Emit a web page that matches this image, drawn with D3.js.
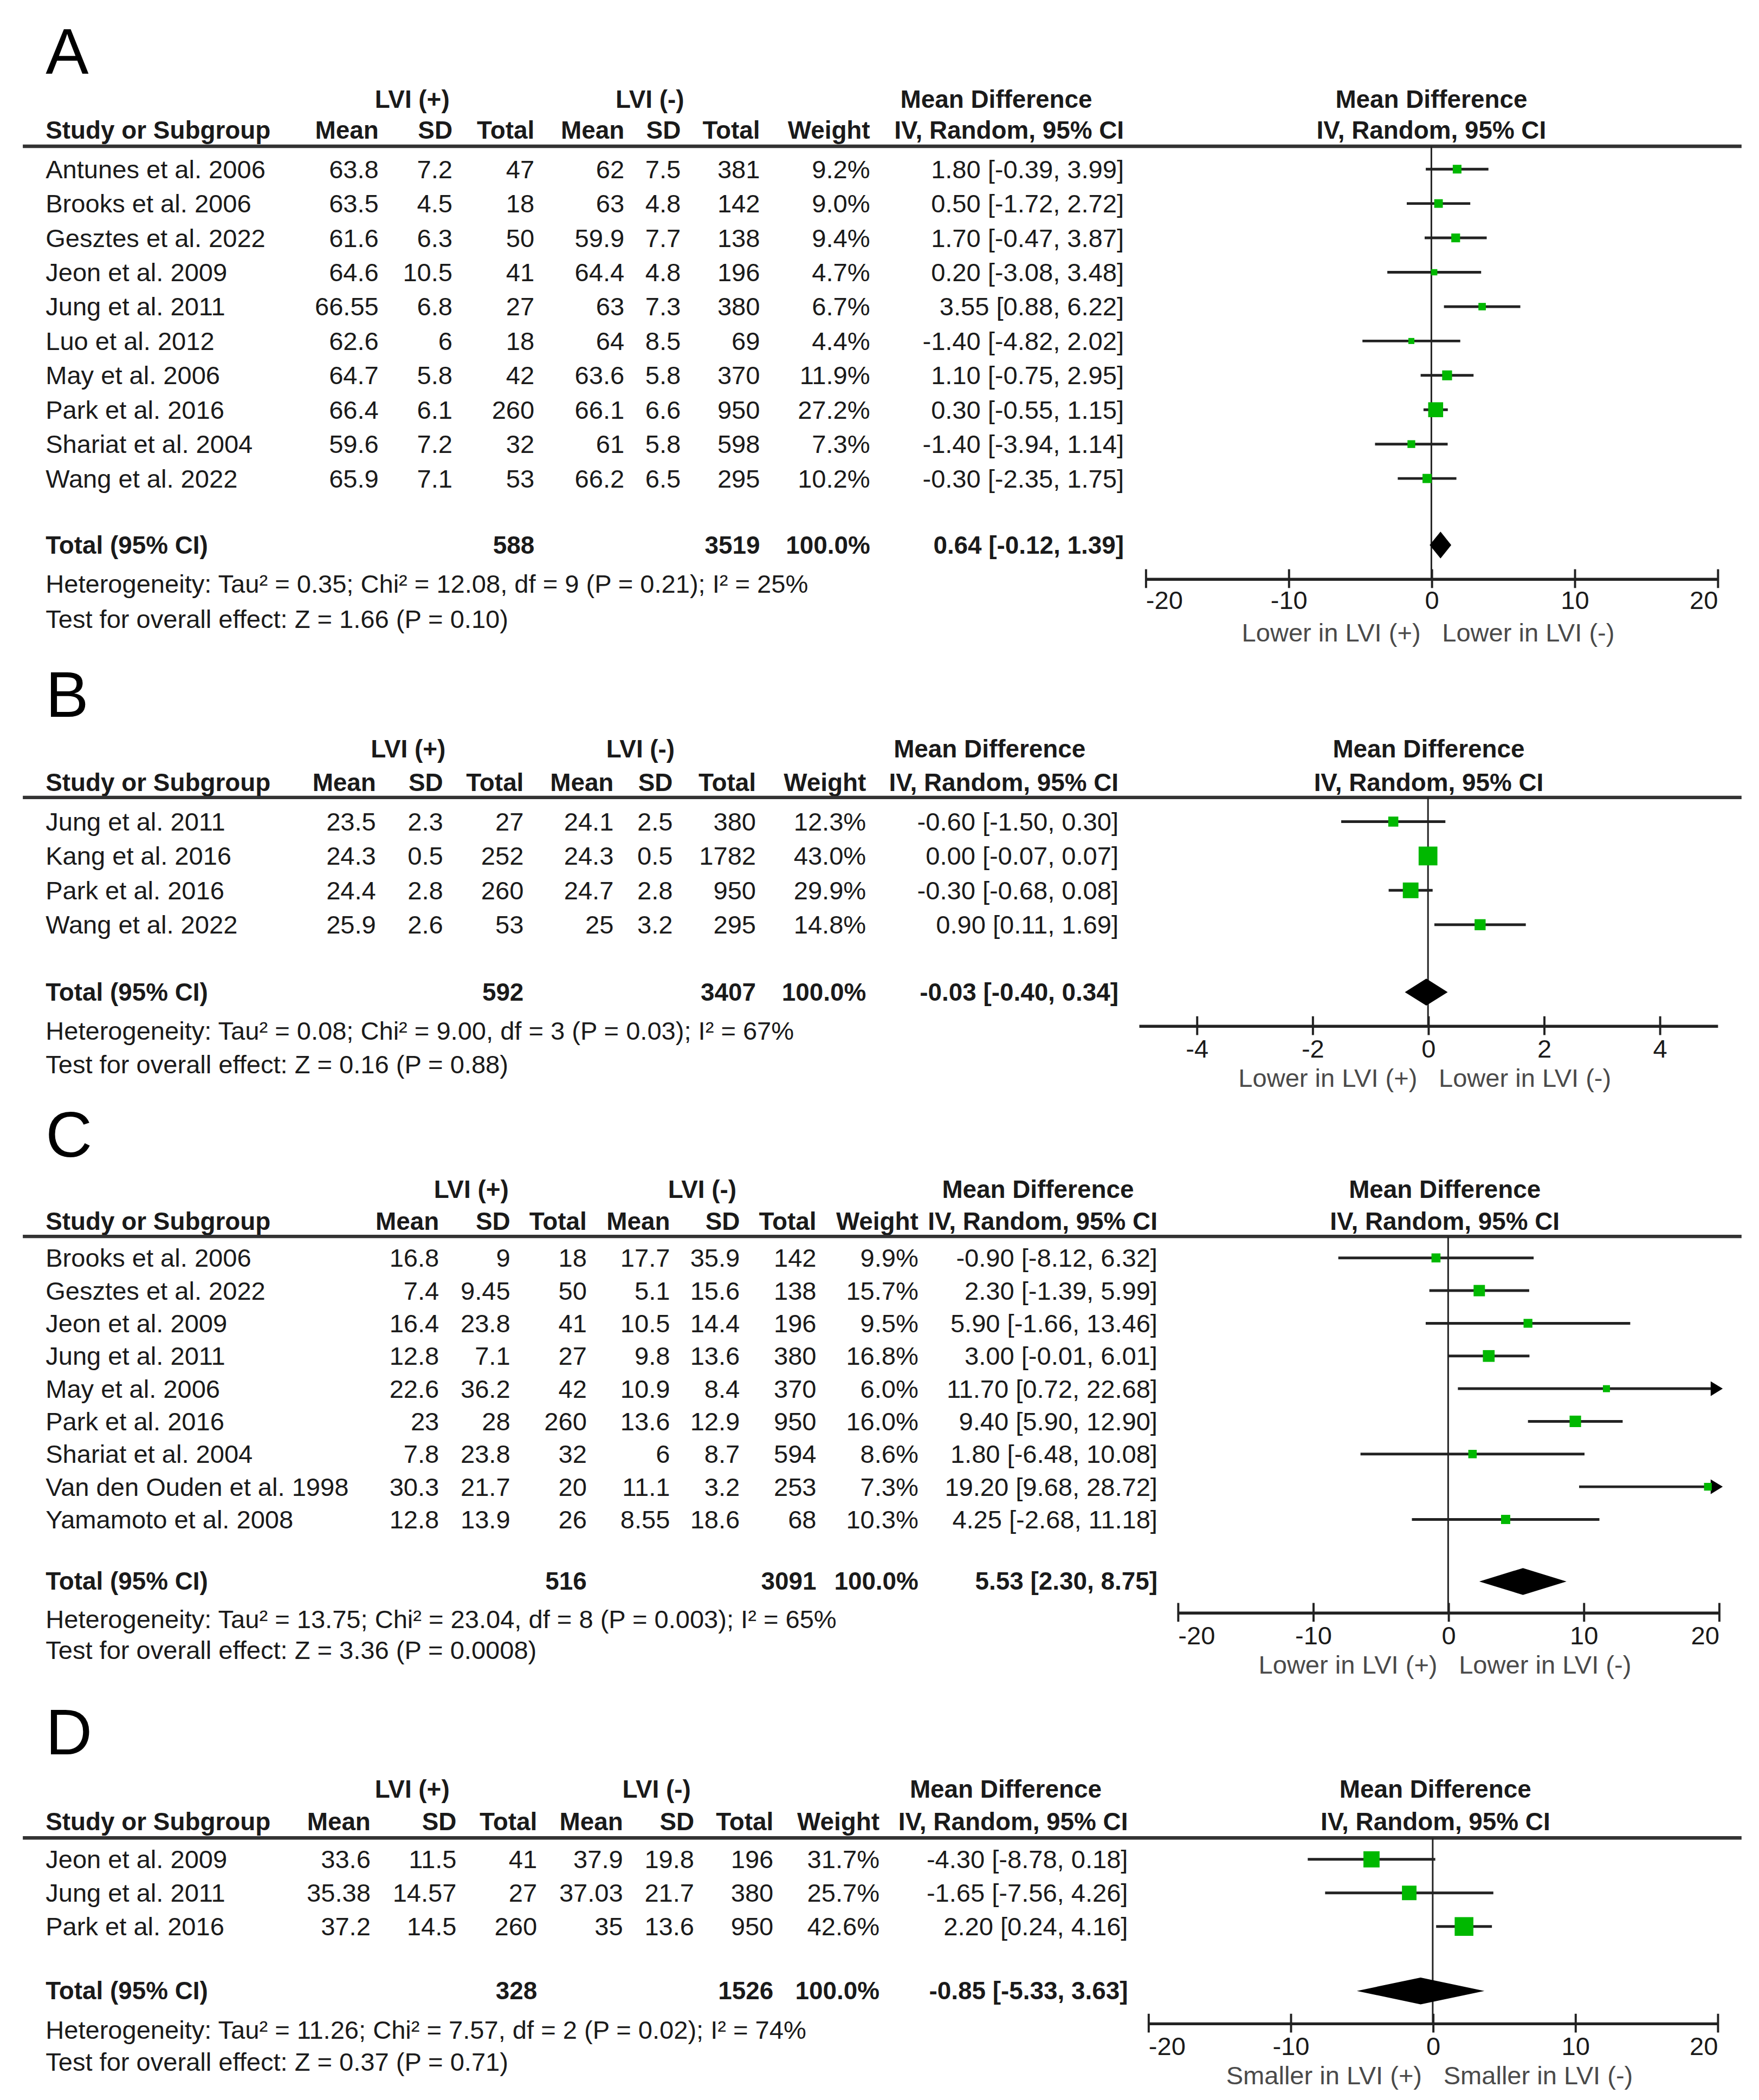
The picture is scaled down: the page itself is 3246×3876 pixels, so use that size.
<!DOCTYPE html>
<html>
<head>
<meta charset="utf-8">
<script src="https://cdn.jsdelivr.net/npm/d3@7/dist/d3.min.js"></script>
<style>
  body { margin: 0; background: #fff; }
  svg text { font-family: "Liberation Sans", Arial, sans-serif; }
</style>
</head>
<body>
<script>
// ---------- panel A ----------
const studiesA = ["Antunes et al. 2006", "Brooks et al. 2006", "Gesztes et al. 2022", "Jeon et al. 2009", "Jung et al. 2011",
  "Luo et al. 2012", "May et al. 2006", "Park et al. 2016", "Shariat et al. 2004", "Wang et al. 2022"];
const meanPosA = [63.8, 63.5, 61.6, 64.6, 66.55, 62.6, 64.7, 66.4, 59.6, 65.9];
const sdPosA   = [7.2, 4.5, 6.3, 10.5, 6.8, 6, 5.8, 6.1, 7.2, 7.1];
const nPosA    = [47, 18, 50, 41, 27, 18, 42, 260, 32, 53];
const meanNegA = [62, 63, 59.9, 64.4, 63, 64, 63.6, 66.1, 61, 66.2];
const sdNegA   = [7.5, 4.8, 7.7, 4.8, 7.3, 8.5, 5.8, 6.6, 5.8, 6.5];
const nNegA    = [381, 142, 138, 196, 380, 69, 370, 950, 598, 295];
const weightA  = [9.2, 9.0, 9.4, 4.7, 6.7, 4.4, 11.9, 27.2, 7.3, 10.2];
const mdA      = [1.80, 0.50, 1.70, 0.20, 3.55, -1.40, 1.10, 0.30, -1.40, -0.30];
const loA      = [-0.39, -1.72, -0.47, -3.08, 0.88, -4.82, -0.75, -0.55, -3.94, -2.35];
const hiA      = [3.99, 2.72, 3.87, 3.48, 6.22, 2.02, 2.95, 1.15, 1.14, 1.75];
const totalA   = [588, 3519, 100.0, 0.64, -0.12, 1.39];
const hetA  = "Heterogeneity: Tau² = 0.35; Chi² = 12.08, df = 9 (P = 0.21); I² = 25%";
const testA = "Test for overall effect: Z = 1.66 (P = 0.10)";
const domainA = [-20, 20];
const ticksA  = [-20, -10, 0, 10, 20];
const favourA = ["Lower in LVI (+)", "Lower in LVI (-)"];

// ---------- panel B ----------
const studiesB = ["Jung et al. 2011", "Kang et al. 2016", "Park et al. 2016", "Wang et al. 2022"];
const meanPosB = [23.5, 24.3, 24.4, 25.9];
const sdPosB   = [2.3, 0.5, 2.8, 2.6];
const nPosB    = [27, 252, 260, 53];
const meanNegB = [24.1, 24.3, 24.7, 25];
const sdNegB   = [2.5, 0.5, 2.8, 3.2];
const nNegB    = [380, 1782, 950, 295];
const weightB  = [12.3, 43.0, 29.9, 14.8];
const mdB      = [-0.60, 0.00, -0.30, 0.90];
const loB      = [-1.50, -0.07, -0.68, 0.11];
const hiB      = [0.30, 0.07, 0.08, 1.69];
const totalB   = [592, 3407, 100.0, -0.03, -0.40, 0.34];
const hetB  = "Heterogeneity: Tau² = 0.08; Chi² = 9.00, df = 3 (P = 0.03); I² = 67%";
const testB = "Test for overall effect: Z = 0.16 (P = 0.88)";
const domainB = [-5, 5];
const ticksB  = [-4, -2, 0, 2, 4];
const favourB = ["Lower in LVI (+)", "Lower in LVI (-)"];

// ---------- panel C ----------
const studiesC = ["Brooks et al. 2006", "Gesztes et al. 2022", "Jeon et al. 2009", "Jung et al. 2011", "May et al. 2006",
  "Park et al. 2016", "Shariat et al. 2004", "Van den Ouden et al. 1998", "Yamamoto et al. 2008"];
const meanPosC = [16.8, 7.4, 16.4, 12.8, 22.6, 23, 7.8, 30.3, 12.8];
const sdPosC   = [9, 9.45, 23.8, 7.1, 36.2, 28, 23.8, 21.7, 13.9];
const nPosC    = [18, 50, 41, 27, 42, 260, 32, 20, 26];
const meanNegC = [17.7, 5.1, 10.5, 9.8, 10.9, 13.6, 6, 11.1, 8.55];
const sdNegC   = [35.9, 15.6, 14.4, 13.6, 8.4, 12.9, 8.7, 3.2, 18.6];
const nNegC    = [142, 138, 196, 380, 370, 950, 594, 253, 68];
const weightC  = [9.9, 15.7, 9.5, 16.8, 6.0, 16.0, 8.6, 7.3, 10.3];
const mdC      = [-0.90, 2.30, 5.90, 3.00, 11.70, 9.40, 1.80, 19.20, 4.25];
const loC      = [-8.12, -1.39, -1.66, -0.01, 0.72, 5.90, -6.48, 9.68, -2.68];
const hiC      = [6.32, 5.99, 13.46, 6.01, 22.68, 12.90, 10.08, 28.72, 11.18];
const totalC   = [516, 3091, 100.0, 5.53, 2.30, 8.75];
const hetC  = "Heterogeneity: Tau² = 13.75; Chi² = 23.04, df = 8 (P = 0.003); I² = 65%";
const testC = "Test for overall effect: Z = 3.36 (P = 0.0008)";
const domainC = [-20, 20];
const ticksC  = [-20, -10, 0, 10, 20];
const favourC = ["Lower in LVI (+)", "Lower in LVI (-)"];

// ---------- panel D ----------
const studiesD = ["Jeon et al. 2009", "Jung et al. 2011", "Park et al. 2016"];
const meanPosD = [33.6, 35.38, 37.2];
const sdPosD   = [11.5, 14.57, 14.5];
const nPosD    = [41, 27, 260];
const meanNegD = [37.9, 37.03, 35];
const sdNegD   = [19.8, 21.7, 13.6];
const nNegD    = [196, 380, 950];
const weightD  = [31.7, 25.7, 42.6];
const mdD      = [-4.30, -1.65, 2.20];
const loD      = [-8.78, -7.56, 0.24];
const hiD      = [0.18, 4.26, 4.16];
const totalD   = [328, 1526, 100.0, -0.85, -5.33, 3.63];
const hetD  = "Heterogeneity: Tau² = 11.26; Chi² = 7.57, df = 2 (P = 0.02); I² = 74%";
const testD = "Test for overall effect: Z = 0.37 (P = 0.71)";
const domainD = [-20, 20];
const ticksD  = [-20, -10, 0, 10, 20];
const favourD = ["Smaller in LVI (+)", "Smaller in LVI (-)"];

const colHeaders = ["Mean", "SD", "Total", "Mean", "SD", "Total", "Weight", "IV, Random, 95% CI"];

// layout (in 1310-wide units, scaled up by the viewBox)
const layouts = [
  { letter: "A", letterY: 38, grpY: 74, hdrY: 97, lineY: 109, row0: 126, rowStep: 25.6, totalY: 406, hetY: 435, testY: 461,
    axisY: 431, tickY: 447, dirY: 471, cols: [282, 337, 398, 465, 507, 566, 648, 837], grp: [307, 484, 742, 1066], xRange: [853, 1279] },
  { letter: "B", letterY: 517, grpY: 558, hdrY: 583, lineY: 594, row0: 612, rowStep: 25.6, totalY: 739, hetY: 768, testY: 793,
    axisY: 764, tickY: 781, dirY: 803, cols: [280, 330, 390, 457, 501, 563, 645, 833], grp: [304, 477, 737, 1064], xRange: [848, 1279] },
  { letter: "C", letterY: 845, grpY: 886, hdrY: 910, lineY: 921, row0: 937, rowStep: 24.35, totalY: 1178, hetY: 1206, testY: 1229,
    axisY: 1201, tickY: 1218, dirY: 1240, cols: [327, 380, 437, 499, 551, 608, 684, 862], grp: [351, 523, 773, 1076], xRange: [877, 1280] },
  { letter: "D", letterY: 1290, grpY: 1333, hdrY: 1357, lineY: 1369, row0: 1385, rowStep: 25, totalY: 1483, hetY: 1512, testY: 1536,
    axisY: 1507, tickY: 1524, dirY: 1546, cols: [276, 340, 400, 464, 517, 576, 655, 840], grp: [307, 489, 749, 1069], xRange: [855, 1279] }
];

const panels = [
  { studies: studiesA, m1: meanPosA, s1: sdPosA, n1: nPosA, m2: meanNegA, s2: sdNegA, n2: nNegA, w: weightA, md: mdA, lo: loA, hi: hiA,
    total: totalA, het: hetA, test: testA, domain: domainA, ticks: ticksA, favour: favourA },
  { studies: studiesB, m1: meanPosB, s1: sdPosB, n1: nPosB, m2: meanNegB, s2: sdNegB, n2: nNegB, w: weightB, md: mdB, lo: loB, hi: hiB,
    total: totalB, het: hetB, test: testB, domain: domainB, ticks: ticksB, favour: favourB },
  { studies: studiesC, m1: meanPosC, s1: sdPosC, n1: nPosC, m2: meanNegC, s2: sdNegC, n2: nNegC, w: weightC, md: mdC, lo: loC, hi: hiC,
    total: totalC, het: hetC, test: testC, domain: domainC, ticks: ticksC, favour: favourC },
  { studies: studiesD, m1: meanPosD, s1: sdPosD, n1: nPosD, m2: meanNegD, s2: sdNegD, n2: nNegD, w: weightD, md: mdD, lo: loD, hi: hiD,
    total: totalD, het: hetD, test: testD, domain: domainD, ticks: ticksD, favour: favourD }
];

const W = 1310, H = W * 3876 / 3246;
const svg = d3.select("body").append("svg")
  .attr("width", 3246).attr("height", 3876)
  .attr("viewBox", `0 0 ${W} ${H}`);

const INK = "#1a1a1a", GREEN = "#00b800";
// RevMan prints a plain hyphen as minus sign
const loc = d3.formatLocale({ decimal: ".", thousands: ",", grouping: [3], currency: ["", ""], minus: "-" });
const f2 = loc.format(".2f"), f1 = loc.format(".1f"), fd = loc.format("d");
const boxSize = d3.scaleSqrt().domain([0, 43]).range([0, 14]);

function txt(g, x, y, s, opt = {}) {
  return g.append("text").attr("x", x).attr("y", y)
    .attr("dominant-baseline", "central")
    .attr("text-anchor", opt.anchor || "end")
    .attr("font-size", opt.bold ? 18.5 : 19)
    .attr("font-weight", opt.bold ? "bold" : "normal")
    .attr("fill", opt.fill || INK)
    .text(s);
}

function ciText(md, lo, hi) {
  return `${f2(md)} [${f2(lo)}, ${f2(hi)}]`;
}

function drawPanel(d, L) {
  const g = svg.append("g");
  const c = L.cols;

  g.append("text").attr("x", 34).attr("y", L.letterY)
    .attr("dominant-baseline", "central").attr("font-size", 48).attr("fill", "#000")
    .text(L.letter);

  // group headers
  txt(g, L.grp[0], L.grpY, "LVI (+)", { bold: true, anchor: "middle" });
  txt(g, L.grp[1], L.grpY, "LVI (-)", { bold: true, anchor: "middle" });
  txt(g, L.grp[2], L.grpY, "Mean Difference", { bold: true, anchor: "middle" });
  txt(g, L.grp[3], L.grpY, "Mean Difference", { bold: true, anchor: "middle" });

  // column headers
  txt(g, 34, L.hdrY, "Study or Subgroup", { bold: true, anchor: "start" });
  colHeaders.forEach((h, i) => txt(g, c[i], L.hdrY, h, { bold: true }));
  txt(g, L.grp[3], L.hdrY, "IV, Random, 95% CI", { bold: true, anchor: "middle" });

  g.append("line").attr("x1", 17).attr("x2", 1297).attr("y1", L.lineY).attr("y2", L.lineY)
    .attr("stroke", "#333").attr("stroke-width", 2.6);

  const n = d.studies.length;
  const y = d3.scaleLinear().domain([0, n - 1]).range([L.row0, L.row0 + (n - 1) * L.rowStep]);
  const x = d3.scaleLinear().domain(d.domain).range(L.xRange);

  // study rows
  d.studies.forEach((s, i) => {
    const yy = y(i);
    txt(g, 34, yy, s, { anchor: "start" });
    const vals = [d.m1[i], d.s1[i], d.n1[i], d.m2[i], d.s2[i], d.n2[i], f1(d.w[i]) + "%", ciText(d.md[i], d.lo[i], d.hi[i])];
    vals.forEach((v, j) => txt(g, c[j], yy, v));
  });

  // total row
  const t = d.total;
  txt(g, 34, L.totalY, "Total (95% CI)", { bold: true, anchor: "start" });
  txt(g, c[2], L.totalY, t[0], { bold: true });
  txt(g, c[5], L.totalY, t[1], { bold: true });
  txt(g, c[6], L.totalY, f1(t[2]) + "%", { bold: true });
  txt(g, c[7], L.totalY, ciText(t[3], t[4], t[5]), { bold: true });
  txt(g, 34, L.hetY, d.het, { anchor: "start" });
  txt(g, 34, L.testY, d.test, { anchor: "start" });

  // zero line
  g.append("line").attr("x1", x(0)).attr("x2", x(0)).attr("y1", L.lineY).attr("y2", L.axisY)
    .attr("stroke", "#222").attr("stroke-width", 1.2);

  // confidence intervals
  const [d0, d1] = d.domain;
  d.studies.forEach((s, i) => {
    const yy = y(i);
    const right = Math.min(d.hi[i], d1);
    g.append("line").attr("x1", x(Math.max(d.lo[i], d0))).attr("x2", x(right))
      .attr("y1", yy).attr("y2", yy).attr("stroke", "#222").attr("stroke-width", 2);
    if (d.hi[i] > d1) {
      const xe = x(d1) + 3;
      g.append("path").attr("d", `M${xe},${yy} L${xe - 9},${yy - 5.5} L${xe - 9},${yy + 5.5} Z`).attr("fill", "#000");
    }
    const b = boxSize(d.w[i]);
    g.append("rect").attr("x", x(d.md[i]) - b / 2).attr("y", yy - b / 2)
      .attr("width", b).attr("height", b).attr("fill", GREEN);
  });

  // pooled diamond
  const dy = L.totalY, hh = 10;
  g.append("path")
    .attr("d", `M${x(t[4])},${dy} L${x(t[3])},${dy - hh} L${x(t[5])},${dy} L${x(t[3])},${dy + hh} Z`)
    .attr("fill", "#000");

  // axis
  const ax = g.append("g").attr("transform", `translate(0,${L.axisY})`)
    .call(d3.axisBottom(x).tickValues(d.ticks).tickSize(6).tickSizeOuter(0).tickFormat(fd));
  ax.select(".domain").attr("stroke", "#222").attr("stroke-width", 2.2);
  ax.selectAll(".tick line").attr("y1", -7).attr("y2", 7).attr("stroke", "#222").attr("stroke-width", 1.6);
  ax.selectAll(".tick text")
    .attr("y", L.tickY - L.axisY).attr("dy", null)
    .attr("dominant-baseline", "central")
    .attr("font-size", 19).attr("font-family", "Liberation Sans, Arial, sans-serif").attr("fill", INK)
    .attr("text-anchor", v => v === d0 ? "start" : v === d1 ? "end" : "middle");

  txt(g, x(0) - 8, L.dirY, d.favour[0], { fill: "#4a4a4a" });
  txt(g, x(0) + 8, L.dirY, d.favour[1], { fill: "#4a4a4a", anchor: "start" });
}

panels.forEach((p, i) => drawPanel(p, layouts[i]));
</script>
</body>
</html>
